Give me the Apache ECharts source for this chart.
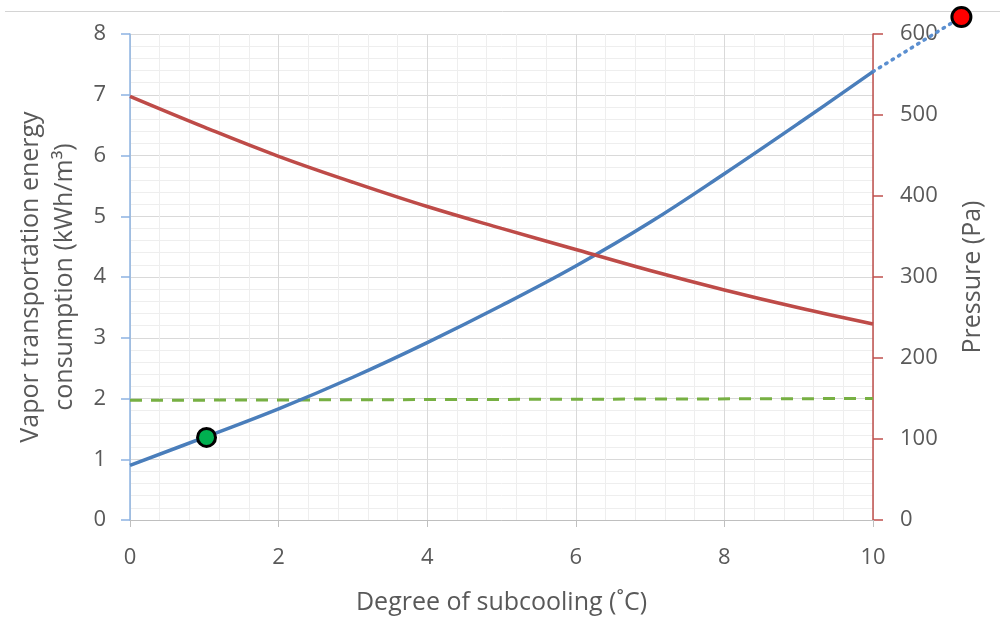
<!DOCTYPE html>
<html>
<head>
<meta charset="utf-8">
<script src="https://cdn.jsdelivr.net/npm/echarts@6/dist/echarts.min.js"></script>
<style>
html,body{margin:0;padding:0;background:#fff;}
#chart{width:1000px;height:620px;}
</style>
</head>
<body>
<div id="chart"></div>
<script>
// ---- data ----
const subcooling = [0, 1, 2, 3, 4, 5, 6, 7, 8, 9, 10];
const energy = [0.90, 1.36, 1.83, 2.35, 2.92, 3.53, 4.18, 4.90, 5.70, 6.53, 7.38];
const pressure = [523, 485, 449, 417, 387, 360, 334, 308, 284, 262, 242];
const thresholdX = [0, 10];
const thresholdY = [1.97, 2.0];
const extrapX = [10, 11.19];
const extrapY = [7.38, 8.28];
const currentPoint = [1.03, 1.36];
const targetPoint = [11.19, 8.28];

const xName = 'Degree of subcooling (˚C)';
const yLeftName = 'Vapor transportation energy\nconsumption (kWh/m³)';
const yRightName = 'Pressure (Pa)';

const FONT = 'Open Sans';
const TXT = '#595959';

const chart = echarts.init(document.getElementById('chart'), null, {renderer: 'canvas'});

const zip = (xs, ys) => xs.map((x, i) => [x, ys[i]]);

chart.setOption({
  animation: false,
  backgroundColor: '#ffffff',
  textStyle: {fontFamily: FONT},
  graphic: [{
    type: 'line',
    shape: {x1: 5, y1: 11.5, x2: 1000, y2: 11.5},
    style: {stroke: '#d4d4d4', lineWidth: 1}
  }],
  grid: {left: 130, right: 127, top: 34, bottom: 99, containLabel: false},
  xAxis: {
    type: 'value',
    min: 0, max: 10, interval: 2,
    name: xName,
    nameLocation: 'middle',
    nameGap: 70,
    nameTextStyle: {color: TXT, fontSize: 25, fontFamily: FONT},
    axisLine: {show: true, lineStyle: {color: '#bfbfbf', width: 1}},
    axisTick: {show: true, length: 7, lineStyle: {color: '#bfbfbf'}},
    axisLabel: {color: TXT, fontSize: 22, margin: 27, fontFamily: FONT},
    splitLine: {show: true, lineStyle: {color: '#d9d9d9', width: 1}},
    minorTick: {show: false, splitNumber: 5},
    minorSplitLine: {show: true, lineStyle: {color: '#eeeeee', width: 1}}
  },
  yAxis: [{
    type: 'value',
    position: 'left',
    min: 0, max: 8, interval: 1,
    name: yLeftName,
    nameLocation: 'middle',
    nameGap: 48,
    nameTextStyle: {color: TXT, fontSize: 25, lineHeight: 34, fontFamily: FONT, align: 'center'},
    axisLine: {show: true, lineStyle: {color: '#8db3e2', width: 1.5}},
    axisTick: {show: true, length: 9, lineStyle: {color: '#8db3e2', width: 1.5}},
    axisLabel: {color: TXT, fontSize: 22, margin: 24, fontFamily: FONT},
    splitLine: {show: true, lineStyle: {color: '#d9d9d9', width: 1}},
    minorTick: {show: false, splitNumber: 5},
    minorSplitLine: {show: true, lineStyle: {color: '#eeeeee', width: 1}}
  }, {
    type: 'value',
    position: 'right',
    min: 0, max: 600, interval: 100,
    name: yRightName,
    nameLocation: 'middle',
    nameGap: 87,
    nameTextStyle: {color: TXT, fontSize: 25, fontFamily: FONT},
    axisLine: {show: true, lineStyle: {color: '#c0504d', width: 1.5}},
    axisTick: {show: true, length: 10, lineStyle: {color: '#c0504d', width: 1.5}},
    axisLabel: {color: TXT, fontSize: 22, margin: 27, fontFamily: FONT},
    splitLine: {show: false}
  }],
  series: [{
    name: 'Energy',
    type: 'line',
    yAxisIndex: 0,
    data: zip(subcooling, energy),
    smooth: 0.4,
    showSymbol: false,
    symbol: 'none',
    lineStyle: {color: '#4a7ebb', width: 3.5},
    z: 3
  }, {
    name: 'Pressure',
    type: 'line',
    yAxisIndex: 1,
    data: zip(subcooling, pressure),
    smooth: 0.4,
    showSymbol: false,
    symbol: 'none',
    lineStyle: {color: '#be4b48', width: 3.5},
    z: 3
  }, {
    name: 'Threshold',
    type: 'line',
    yAxisIndex: 0,
    data: zip(thresholdX, thresholdY),
    showSymbol: false,
    symbol: 'none',
    lineStyle: {color: '#77b043', width: 3, type: [12, 9]},
    z: 2
  }, {
    name: 'Extrapolation',
    type: 'custom',
    yAxisIndex: 0,
    clip: false,
    data: zip(extrapX, extrapY),
    encode: {x: 0, y: 1},
    renderItem: function (params, api) {
      if (params.dataIndex !== 0) return null;
      const pts = extrapX.map((x, i) => api.coord([x, extrapY[i]]));
      return {
        type: 'polyline',
        shape: {points: pts},
        style: {stroke: '#5b8fd0', lineWidth: 3.5, lineDash: [1.5, 6], lineCap: 'round', fill: null}
      };
    },
    z: 3
  }, {
    name: 'Current',
    type: 'scatter',
    yAxisIndex: 0,
    data: [currentPoint],
    symbol: 'circle',
    symbolSize: 18,
    clip: false,
    itemStyle: {color: '#00b050', borderColor: '#000000', borderWidth: 3, opacity: 1},
    z: 5
  }, {
    name: 'Target',
    type: 'scatter',
    yAxisIndex: 0,
    data: [targetPoint],
    symbol: 'circle',
    symbolSize: 19,
    clip: false,
    itemStyle: {color: '#ff0000', borderColor: '#000000', borderWidth: 3, opacity: 1},
    z: 5
  }]
});
</script>
</body>
</html>
